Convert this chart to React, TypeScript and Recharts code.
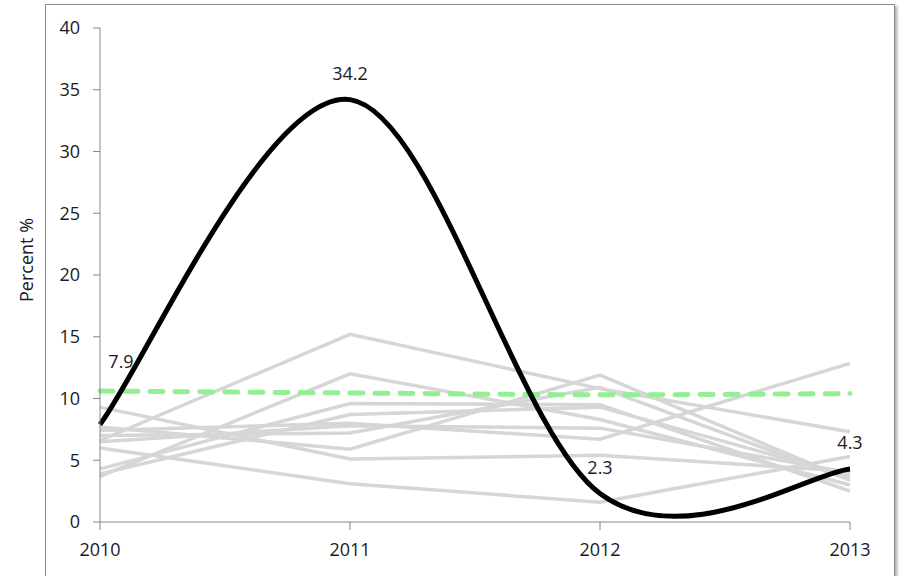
import React from 'react';
import { LineChart, Line, XAxis, YAxis, Label } from 'recharts';

const years = ['2010', '2011', '2012', '2013'];
const highlight = [7.9, 34.2, 2.3, 4.3];
const average = [10.6, 10.45, 10.3, 10.4];
const yTicks = [0, 5, 10, 15, 20, 25, 30, 35, 40];

// the grey background countries
const seriesA = [6.6, 15.2, 10.8, 7.3];
const seriesB = [3.7, 12.0, 8.3, 3.0];
const seriesC = [7.7, 5.9, 11.9, 3.4];
const seriesD = [9.3, 5.1, 5.4, 4.1];
const seriesE = [6.0, 3.1, 1.6, 5.3];
const seriesF = [7.4, 8.0, 6.7, 12.85];
const seriesG = [3.9, 8.7, 9.3, 3.7];
const seriesH = [4.3, 9.6, 9.5, 2.5];
const seriesI = [7.0, 7.2, 10.9, 3.4];
const seriesJ = [6.5, 7.8, 7.6, 4.0];
const greySeries = [seriesA, seriesB, seriesC, seriesD, seriesE, seriesF, seriesG, seriesH, seriesI, seriesJ];

const data = years.map((year, i) => {
  const row: Record<string, string | number> = { year, highlight: highlight[i], average: average[i] };
  greySeries.forEach((s, k) => {
    row['g' + k] = s[i];
  });
  return row;
});

const FONT = '"Open Sans", sans-serif';
const TEXT = '#1a1a26';

// Excel style smoothed line (Catmull-Rom through the points)
const excelSmooth = (context: any) => {
  let xs: number[] = [];
  let ys: number[] = [];
  return {
    areaStart() {},
    areaEnd() {},
    lineStart() {
      xs = [];
      ys = [];
    },
    point(x: number, y: number) {
      xs.push(+x);
      ys.push(+y);
    },
    lineEnd() {
      const n = xs.length;
      if (!n) return;
      context.moveTo(xs[0], ys[0]);
      for (let i = 0; i < n - 1; i++) {
        const p = i > 0 ? i - 1 : i;
        const q = i + 2 < n ? i + 2 : i + 1;
        context.bezierCurveTo(
          xs[i] + (xs[i + 1] - xs[p]) / 6,
          ys[i] + (ys[i + 1] - ys[p]) / 6,
          xs[i + 1] - (xs[q] - xs[i]) / 6,
          ys[i + 1] - (ys[q] - ys[i]) / 6,
          xs[i + 1],
          ys[i + 1]
        );
      }
    },
  };
};

const renderValueLabel = (props: any) => {
  const { x, y, value, index } = props;
  const first = index === 0;
  return (
    <text
      x={x + (first ? 21 : 0)}
      y={y - (first ? 56 : 20)}
      textAnchor="middle"
      fontFamily={FONT}
      fontSize={18}
      fill={TEXT}
    >
      {value}
    </text>
  );
};

const renderAxisTitle = (props: any) => {
  const vb = props.viewBox;
  const cx = 26;
  const cy = vb.y + vb.height / 2 - 15;
  return (
    <text
      x={cx}
      y={cy}
      transform={`rotate(-90 ${cx} ${cy})`}
      textAnchor="middle"
      dominantBaseline="central"
      fontFamily={FONT}
      fontSize={18}
      fill={TEXT}
    >
      Percent %
    </text>
  );
};

export default function App() {
  return (
    <div style={{ position: 'absolute', left: 0, top: 0, width: 901, height: 576, overflow: 'hidden', background: '#fff' }}>
      <div
        style={{
          position: 'absolute',
          left: 45,
          top: 4,
          width: 848,
          height: 620,
          border: '1px solid #8c8c8c',
          boxShadow: '2px 2px 3px rgba(0,0,0,0.35)',
          background: '#fff',
        }}
      />
      <div style={{ position: 'absolute', left: 0, top: 0 }}>
        <LineChart width={901} height={576} data={data} margin={{ top: 28, right: 51, left: 0, bottom: 0 }}>
          <XAxis
            dataKey="year"
            height={54}
            stroke="#868686"
            tickSize={8}
            tickMargin={13}
            tick={{ fontFamily: FONT, fontSize: 18, fill: TEXT }}
            interval={0}
          />
          <YAxis
            width={100}
            domain={[0, 40]}
            ticks={yTicks}
            stroke="#868686"
            tickSize={7}
            tickMargin={13}
            tick={{ fontFamily: FONT, fontSize: 18, fill: TEXT }}
            interval={0}
          >
            <Label content={renderAxisTitle} />
          </YAxis>
          {greySeries.map((_, k) => (
            <Line
              key={k}
              dataKey={'g' + k}
              type="linear"
              stroke="#d6d6d6"
              strokeWidth={3.5}
              dot={false}
              activeDot={false}
              isAnimationActive={false}
            />
          ))}
          <Line
            dataKey="average"
            type={excelSmooth as any}
            stroke="#93ef93"
            strokeWidth={5}
            strokeDasharray="13 12"
            strokeLinecap="round"
            dot={false}
            activeDot={false}
            isAnimationActive={false}
          />
          <Line
            dataKey="highlight"
            type={excelSmooth as any}
            stroke="#000"
            strokeWidth={5}
            dot={false}
            activeDot={false}
            label={renderValueLabel}
            isAnimationActive={false}
          />
        </LineChart>
      </div>
    </div>
  );
}
